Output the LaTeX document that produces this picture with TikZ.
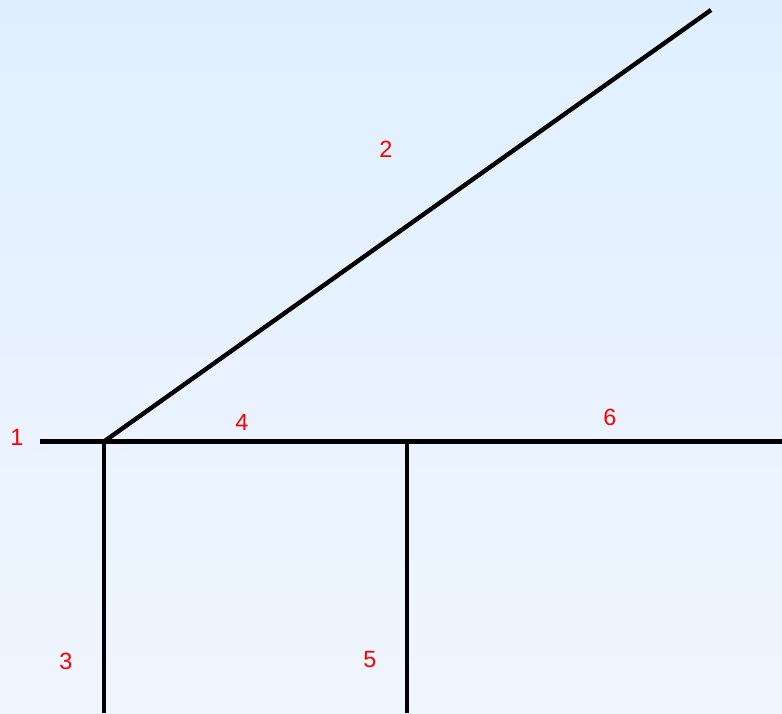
\documentclass[tikz,border=0pt]{standalone}
\usepackage{fontspec}
\setmainfont{Liberation Sans}
\definecolor{bgtop}{RGB}{224,239,255}
\definecolor{bgbot}{RGB}{240,246,255}
\definecolor{lab}{RGB}{255,0,0}
\begin{document}
\begin{tikzpicture}[x=1pt,y=-1pt,
  seg/.style={line width=4.4pt,black},
  lbl/.style={text=lab,font=\fontsize{23.5}{28}\selectfont,inner sep=0pt}]
\shade[top color=bgtop,bottom color=bgbot] (0,0) rectangle (782,713);
\useasboundingbox (0,0) rectangle (782,713);
\coordinate (l1) at (40,441.5);
\coordinate (J) at (104,441.5);
\coordinate (M) at (407,441.5);
\coordinate (R) at (782,441.5);
\coordinate (T) at (711,10);
\coordinate (B1) at (104,713);
\coordinate (B2) at (407,713);
\draw[seg] (l1) -- (R);
\draw[seg] (J) -- (T);
\draw[seg] (J) -- (B1);
\draw[seg] (M) -- (B2);
\node[lbl] (n1) at (17,437) {1};
\node[lbl] (n2) at (386,149) {2};
\node[lbl] (n3) at (66,661) {3};
\node[lbl] (n4) at (242,422) {4};
\node[lbl] (n5) at (370,660) {5};
\node[lbl] (n6) at (610,417) {6};
\end{tikzpicture}
\end{document}
